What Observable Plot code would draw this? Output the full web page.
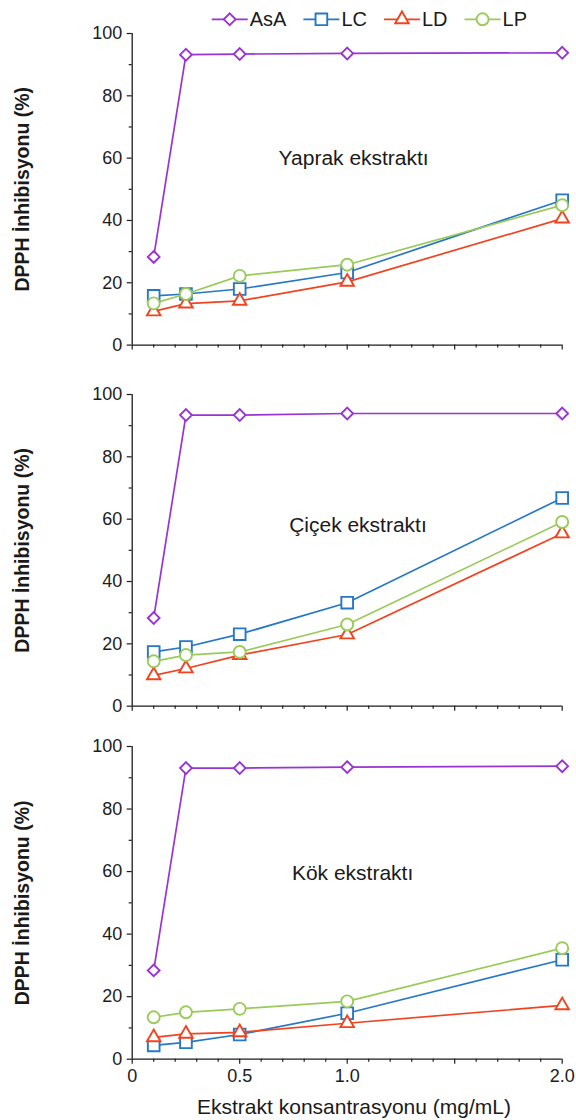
<!DOCTYPE html>
<html><head><meta charset="utf-8">
<script src="https://cdn.jsdelivr.net/npm/d3@7"></script>
<script src="https://cdn.jsdelivr.net/npm/@observablehq/plot@0.6"></script>
<style>
html,body{margin:0;padding:0;background:#fff;}
#chart{position:relative;width:576px;height:1120px;font-family:"Liberation Sans",Arial,sans-serif;overflow:hidden;}
#chart svg{position:absolute;left:0;overflow:visible;}
</style></head><body><div id="chart"></div>
<script>
// ---- data ----
const concentrations = [0.1, 0.25, 0.5, 1.0, 2.0];
const seriesNames = ["AsA", "LC", "LD", "LP"];
const seriesColors = ["#9a33d4", "#2677c6", "#f2431f", "#9acb5a"];
const seriesSymbols = ["diamond2", "square", "triangle", "circle"];
const panelNames = ["Yaprak ekstraktı", "Çiçek ekstraktı", "Kök ekstraktı"];

const yaprakAsA = [28.3, 93.2, 93.4, 93.6, 93.8];
const yaprakLC  = [15.8, 16.4, 18.0, 23.3, 46.5];
const yaprakLD  = [10.8, 13.3, 14.2, 20.3, 40.6];
const yaprakLP  = [13.4, 16.4, 22.2, 25.8, 44.9];

const cicekAsA = [28.3, 93.4, 93.4, 93.9, 93.9];
const cicekLC  = [17.4, 19.0, 23.1, 33.2, 66.8];
const cicekLD  = [9.9, 12.1, 16.4, 23.0, 55.4];
const cicekLP  = [14.4, 16.4, 17.4, 26.2, 59.1];

const kokAsA = [28.4, 93.1, 93.1, 93.4, 93.7];
const kokLC  = [4.4, 5.4, 7.9, 14.7, 31.8];
const kokLD  = [7.0, 8.1, 8.6, 11.5, 17.2];
const kokLP  = [13.4, 15.0, 16.1, 18.5, 35.5];

const xTickValues = [0, 0.5, 1.0, 2.0];
const xTickLabels = ["0", "0.5", "1.0", "2.0"];
const xUnlabeledMajor = [1.5];
const xMinorTicks = [0.1,0.2,0.3,0.4,0.6,0.7,0.8,0.9,1.1,1.2,1.3,1.4,1.6,1.7,1.8,1.9];
const yTickValues = [0, 20, 40, 60, 80, 100];
const yMinorTicks = [10, 30, 50, 70, 90];
const yLabel = "DPPH İnhibisyonu (%)";
const xLabel = "Ekstrakt konsantrasyonu (mg/mL)";

const panelData = [
  [yaprakAsA, yaprakLC, yaprakLD, yaprakLP],
  [cicekAsA, cicekLC, cicekLD, cicekLP],
  [kokAsA, kokLC, kokLD, kokLP]
];

// ---- layout ----
const FONT = '"Liberation Sans", Arial, sans-serif';
const symbolR = {diamond2: 5.3, square: 6.6, triangle: 5.0, circle: 6.0};
const layouts = [
  {top: 20.7, mt: 12, inner: 311.6, mb: 12, labelX: 1.03, labelY: 59.8, xText: false},
  {top: 382.3, mt: 12, inner: 311.7, mb: 12, labelX: 1.05, labelY: 57.9, xText: false},
  {top: 734.0, mt: 12, inner: 312.7, mb: 61.3, labelX: 1.025, labelY: 59.5, xText: true}
];
const chart = document.getElementById("chart");
const AX = "#1c1c1c";

panelData.forEach((seriesVals, p) => {
  const L = layouts[p];
  const marks = [
    Plot.ruleX([0], {stroke: AX, strokeWidth: 1.3}),
    Plot.ruleY([0], {stroke: AX, strokeWidth: 1.3}),
    Plot.axisY({ticks: yTickValues, tickSize: 5, tickPadding: 5, fontSize: 18, label: null, color: AX, strokeWidth: 1.2}),
    Plot.axisY({ticks: yMinorTicks, tickSize: 3, text: null, label: null, color: AX, strokeWidth: 1.2}),
    Plot.axisX({ticks: xTickValues, tickSize: 5, tickPadding: 5, fontSize: 18, label: null, color: AX, strokeWidth: 1.2,
      tickFormat: d => xTickLabels[xTickValues.indexOf(d)], text: L.xText ? undefined : null}),
    Plot.axisX({ticks: xUnlabeledMajor, tickSize: 5, text: null, label: null, color: AX, strokeWidth: 1.2}),
    Plot.axisX({ticks: xMinorTicks, tickSize: 3, text: null, label: null, color: AX, strokeWidth: 1.2})
  ];
  seriesVals.forEach((vals, s) => {
    const rows = vals.map((v, i) => ({conc: concentrations[i], value: v}));
    marks.push(Plot.line(rows, {x: "conc", y: "value", stroke: seriesColors[s], strokeWidth: 1.7}));
    marks.push(Plot.dot(rows, {x: "conc", y: "value", symbol: seriesSymbols[s], r: symbolR[seriesSymbols[s]],
      stroke: seriesColors[s], fill: "white", strokeWidth: 1.9}));
  });
  marks.push(Plot.text([panelNames[p]], {x: L.labelX, y: L.labelY, text: d => d, fontSize: 21, fill: "#1a1a1a", textAnchor: "middle", lineAnchor: "middle"}));
  marks.push(Plot.text([yLabel], {frameAnchor: "left", text: d => d, rotate: -90, dx: 22 - 131.7, fontSize: 19.5, fontWeight: "bold", fill: "#1a1a1a", textAnchor: "middle", lineAnchor: "middle"}));
  if (L.xText) {
    marks.push(Plot.text([xLabel], {frameAnchor: "bottom", text: d => d, dx: 6.8, dy: 48.3, fontSize: 21, fill: "#1a1a1a", textAnchor: "middle", lineAnchor: "middle"}));
  }
  const svg = Plot.plot({
    width: 576,
    height: L.mt + L.inner + L.mb,
    marginLeft: 131.7, marginRight: 14.3, marginTop: L.mt, marginBottom: L.mb,
    style: {fontFamily: FONT, background: "transparent", overflow: "visible"},
    x: {domain: [0, 2]},
    y: {domain: [0, 100]},
    marks
  });
  svg.style.top = L.top + "px";
  chart.appendChild(svg);
});

// ---- legend ----
const legend = d3.select(chart).append("svg")
  .attr("width", 576).attr("height", 40)
  .style("top", "0px").style("z-index", 2);
let lx = 211.7;
const ly = 19.3;
seriesNames.forEach((name, s) => {
  const g = legend.append("g");
  g.append("line").attr("x1", lx).attr("x2", lx + 36).attr("y1", ly).attr("y2", ly)
    .attr("stroke", seriesColors[s]).attr("stroke-width", 1.7);
  const symType = {diamond2: d3.symbolDiamond2, square: d3.symbolSquare, triangle: d3.symbolTriangle, circle: d3.symbolCircle}[seriesSymbols[s]];
  const r = symbolR[seriesSymbols[s]];
  g.append("path").attr("d", d3.symbol(symType, Math.PI * r * r)())
    .attr("transform", `translate(${lx + 18},${ly})`)
    .attr("fill", "white").attr("stroke", seriesColors[s]).attr("stroke-width", 1.9);
  const t = g.append("text").attr("x", lx + 38).attr("y", ly).attr("dy", "0.35em")
    .attr("font-family", FONT).attr("font-size", 20).attr("fill", "#1a1a1a").text(name);
  lx = lx + 38 + t.node().getComputedTextLength() + 17;
});
</script></body></html>
